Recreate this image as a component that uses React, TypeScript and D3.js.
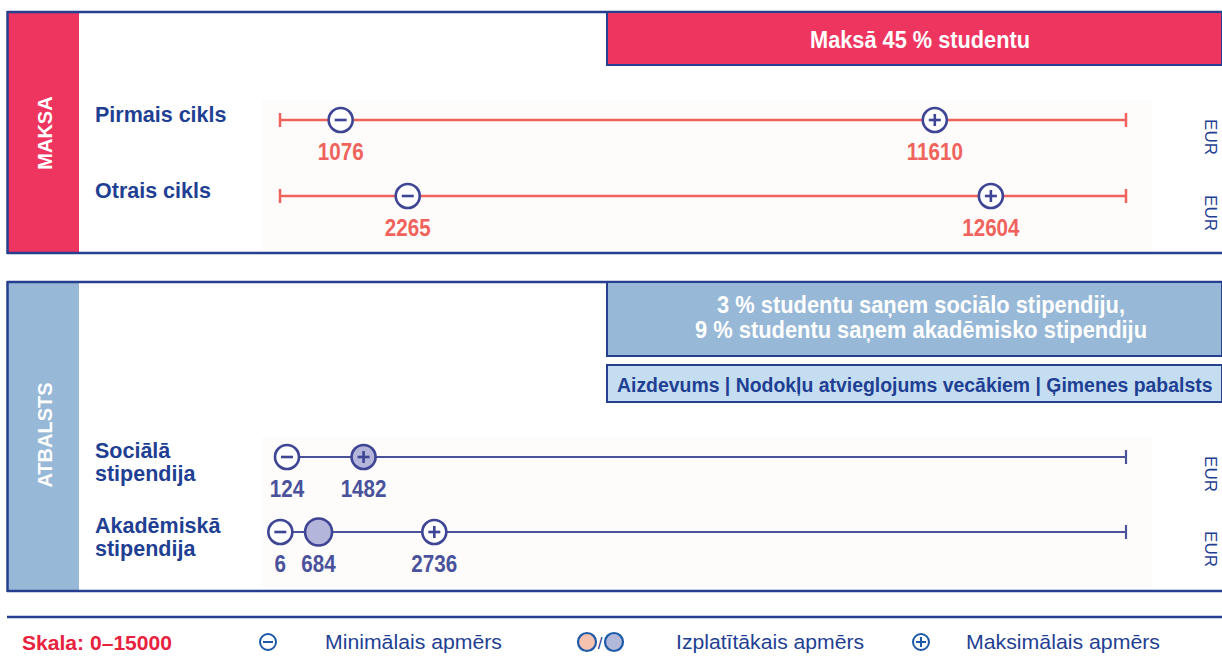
import React, { useLayoutEffect, useRef, useState } from "react";
import * as d3 from "d3";

// ---------- data ----------
const scaleDomain = [0, 15000];
const feeRows = ["Pirmais cikls", "Otrais cikls"];
const feeMin = [1076, 2265];
const feeMax = [11610, 12604];

const supportRowsLine1 = ["Sociālā", "Akadēmiskā"];
const supportRowsLine2 = ["stipendija", "stipendija"];
const supMin = [124, 6];
const supMode: (number | null)[] = [null, 684];
const supMax = [1482, 2736];

const feeHeader = "Maksā 45 % studentu";
const supportHeader = ["3 % studentu saņem sociālo stipendiju,", "9 % studentu saņem akadēmisko stipendiju"];
const supportOther = "Aizdevums | Nodokļu atvieglojums vecākiem | Ģimenes pabalsts";
const legendItems = ["Minimālais apmērs", "Izplatītākais apmērs", "Maksimālais apmērs"];
const scaleLabel = "Skala: 0–15000";
const unit = "EUR";

// ---------- styles ----------
const W = 1222, H = 659;
const navy = "#263f8e";
const textBlue = "#1f3f93";
const red = "#ee3560";
const feeLine = "#f0625c";
const supLine = "#4a529c";
const markerStroke = "#3e4595";
const lavender = "#b3b5da";
const bandBlue = "#97b8d6";
const lightBlue = "#c4ddf1";
const sans = "'Liberation Sans',Arial,Helvetica,sans-serif";

const x = d3.scaleLinear().domain(scaleDomain).range([280, 1126]);

function CText({ x, y, anchor = "start", size, sx = 0.86, fill, children }: any) {
  return (
    <text transform={`translate(${x},${y}) scale(${sx},1)`} textAnchor={anchor} fill={fill}
      fontFamily={sans} fontWeight="bold" fontSize={size}>{children}</text>
  );
}

// text squeezed horizontally to a target width via a measured scale transform
function FitText({ x, y, width, anchor = "start", size, weight = "bold", fill, children }: any) {
  const ref = useRef<SVGTextElement>(null);
  const [sx, setSx] = useState(0.8);
  useLayoutEffect(() => {
    if (ref.current) {
      const w = ref.current.getComputedTextLength();
      if (w > 0) setSx(width / w);
    }
  }, [width, children]);
  return (
    <text ref={ref} transform={`translate(${x},${y}) scale(${sx},1)`} textAnchor={anchor} fill={fill}
      fontFamily={sans} fontWeight={weight} fontSize={size}>{children}</text>
  );
}

function Marker({ cx, cy, kind, fill, r = 12 }: { cx: number; cy: number; kind: "min" | "max" | "mode"; fill: string; r?: number }) {
  const s = 6;
  return (
    <g>
      <circle cx={cx} cy={cy} r={r} fill={fill} stroke={markerStroke} strokeWidth={2.6} />
      {kind !== "mode" && <line x1={cx - s} x2={cx + s} y1={cy} y2={cy} stroke={markerStroke} strokeWidth={2.6} />}
      {kind === "max" && <line x1={cx} x2={cx} y1={cy - s} y2={cy + s} stroke={markerStroke} strokeWidth={2.6} />}
    </g>
  );
}

export default function App() {
  const feeY = [120, 196];
  const supY = [457, 532];
  return (
    <div style={{ position: "fixed", left: 0, top: 0 }}>
      <svg width={W} height={H} viewBox={`0 0 ${W} ${H}`} style={{ display: "block", background: "#fff" }}>
        {/* ===== TOP PANEL ===== */}
        <rect x={262} y={100} width={890} height={150} fill="#fdfcfa" />
        <rect x={8} y={13} width={71} height={240} fill={red} />
        <line x1={7} x2={W} y1={12} y2={12} stroke={navy} strokeWidth={2.5} />
        <line x1={7} x2={W} y1={253} y2={253} stroke={navy} strokeWidth={2.5} />
        <line x1={7.5} x2={7.5} y1={11} y2={254} stroke={navy} strokeWidth={2.5} />
        <text transform="translate(51.5,133) rotate(-90)" textAnchor="middle" fill="#fff" fontFamily={sans} fontWeight="bold" fontSize={20}>MAKSA</text>
        <rect x={607} y={12} width={W - 607} height={53} fill={red} stroke={navy} strokeWidth={2} />
        <FitText x={920} y={48} width={220} anchor="middle" size={24} fill="#fff">{feeHeader}</FitText>

        {feeRows.map((name, i) => {
          const y = feeY[i];
          return (
            <g key={name}>
              <text x={95} y={y + 2} fill={textBlue} fontFamily={sans} fontWeight="bold" fontSize={21.5}>{name}</text>
              <line x1={x(scaleDomain[0])} x2={x(scaleDomain[1])} y1={y} y2={y} stroke={feeLine} strokeWidth={2.5} />
              <line x1={x(scaleDomain[0])} x2={x(scaleDomain[0])} y1={y - 7} y2={y + 7} stroke={feeLine} strokeWidth={2.5} />
              <line x1={x(scaleDomain[1])} x2={x(scaleDomain[1])} y1={y - 7} y2={y + 7} stroke={feeLine} strokeWidth={2.5} />
              <Marker cx={x(feeMin[i])} cy={y} kind="min" fill="#fff" />
              <Marker cx={x(feeMax[i])} cy={y} kind="max" fill="#fff" />
              <CText x={x(feeMin[i])} y={y + 40} anchor="middle" size={24} fill={feeLine}>{feeMin[i]}</CText>
              <CText x={x(feeMax[i])} y={y + 40} anchor="middle" size={24} fill={feeLine}>{feeMax[i]}</CText>
              <text transform={`translate(1205,${y + 17}) rotate(90)`} textAnchor="middle" fill={textBlue} fontFamily={sans} fontSize={17}>{unit}</text>
            </g>
          );
        })}

        {/* ===== BOTTOM PANEL ===== */}
        <rect x={262} y={437} width={890} height={150} fill="#fdfcfa" />
        <rect x={8} y={283} width={71} height={307} fill={bandBlue} />
        <line x1={7} x2={W} y1={282} y2={282} stroke={navy} strokeWidth={2.5} />
        <line x1={7} x2={W} y1={591} y2={591} stroke={navy} strokeWidth={2.5} />
        <line x1={7.5} x2={7.5} y1={281} y2={592} stroke={navy} strokeWidth={2.5} />
        <text transform="translate(51.5,435) rotate(-90)" textAnchor="middle" fill="#fff" fontFamily={sans} fontWeight="bold" fontSize={20}>ATBALSTS</text>
        <rect x={607} y={282} width={W - 607} height={74} fill={bandBlue} stroke={navy} strokeWidth={2} />
        <FitText x={921} y={313} width={408} anchor="middle" size={24} fill="#fff">{supportHeader[0]}</FitText>
        <FitText x={921} y={338} width={452} anchor="middle" size={24} fill="#fff">{supportHeader[1]}</FitText>
        <rect x={607} y={365} width={W - 607} height={37} fill={lightBlue} stroke={navy} strokeWidth={2} />
        <FitText x={617} y={392} width={595} size={21} fill={textBlue}>{supportOther}</FitText>

        {supportRowsLine1.map((name, i) => {
          const y = supY[i];
          const mode = supMode[i];
          return (
            <g key={name}>
              <text x={95} y={y + 1} fill={textBlue} fontFamily={sans} fontWeight="bold" fontSize={21.5}>{name}</text>
              <text x={95} y={y + 24} fill={textBlue} fontFamily={sans} fontWeight="bold" fontSize={21.5}>{supportRowsLine2[i]}</text>
              <line x1={x(supMin[i])} x2={x(scaleDomain[1])} y1={y} y2={y} stroke={supLine} strokeWidth={2.2} />
              <line x1={x(scaleDomain[1])} x2={x(scaleDomain[1])} y1={y - 7} y2={y + 7} stroke={supLine} strokeWidth={2.2} />
              <Marker cx={x(supMin[i])} cy={y} kind="min" fill="#fff" />
              {mode !== null && <Marker cx={x(mode)} cy={y} kind="mode" fill={lavender} r={13.5} />}
              <Marker cx={x(supMax[i])} cy={y} kind="max" fill={i === 0 ? lavender : "#fff"} />
              <CText x={x(supMin[i])} y={y + 40} anchor="middle" size={24} fill={supLine}>{supMin[i]}</CText>
              {mode !== null && <CText x={x(mode)} y={y + 40} anchor="middle" size={24} fill={supLine}>{mode}</CText>}
              <CText x={x(supMax[i])} y={y + 40} anchor="middle" size={24} fill={supLine}>{supMax[i]}</CText>
              <text transform={`translate(1205,${y + 17}) rotate(90)`} textAnchor="middle" fill={textBlue} fontFamily={sans} fontSize={17}>{unit}</text>
            </g>
          );
        })}

        {/* ===== LEGEND ===== */}
        <line x1={7} x2={W} y1={617} y2={617} stroke={navy} strokeWidth={2.5} />
        <FitText x={22} y={650} width={150} size={21} fill="#e8213f">{scaleLabel}</FitText>
        <g>
          <circle cx={268} cy={642} r={8} fill="#fff" stroke="#1d5aa8" strokeWidth={2} />
          <line x1={263} x2={273} y1={642} y2={642} stroke="#1d5aa8" strokeWidth={2} />
        </g>
        <FitText x={325} y={649} width={177} size={20.5} weight="normal" fill={textBlue}>{legendItems[0]}</FitText>
        <circle cx={587} cy={642} r={9} fill="#f6c2b0" stroke="#1d5aa8" strokeWidth={2.2} />
        <text x={600} y={649} textAnchor="middle" fill={textBlue} fontFamily={sans} fontSize={17}>/</text>
        <circle cx={614} cy={642} r={9} fill="#b2b8da" stroke="#1d5aa8" strokeWidth={2.2} />
        <FitText x={676} y={649} width={188} size={20.5} weight="normal" fill={textBlue}>{legendItems[1]}</FitText>
        <g>
          <circle cx={921} cy={642} r={8} fill="#fff" stroke="#1d5aa8" strokeWidth={2} />
          <line x1={916} x2={926} y1={642} y2={642} stroke="#1d5aa8" strokeWidth={2} />
          <line x1={921} x2={921} y1={637} y2={647} stroke="#1d5aa8" strokeWidth={2} />
        </g>
        <FitText x={966} y={649} width={194} size={20.5} weight="normal" fill={textBlue}>{legendItems[2]}</FitText>
      </svg>
    </div>
  );
}
